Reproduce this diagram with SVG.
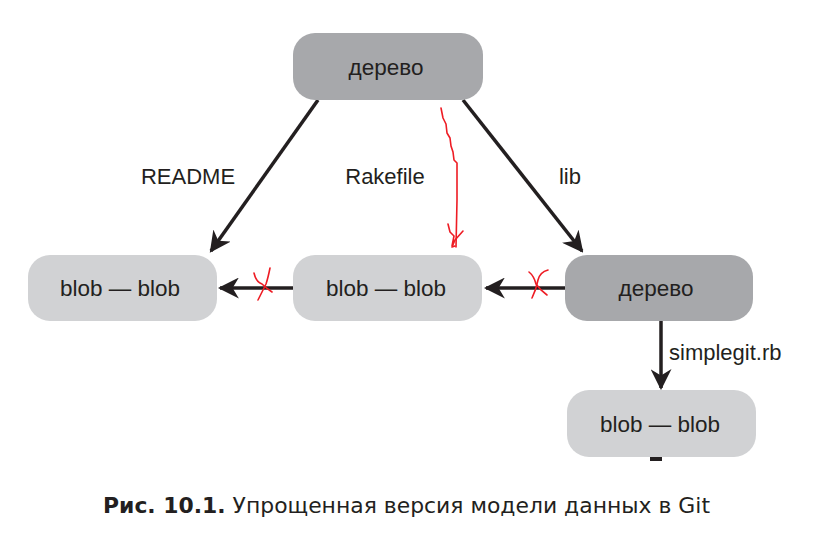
<svg xmlns="http://www.w3.org/2000/svg" width="824" height="548" viewBox="0 0 824 548">
<defs>
<style>
.dark{fill:#a7a8ab}
.light{fill:#d1d2d4}
.nt{font-family:"Liberation Sans",Arial,sans-serif;font-size:22.5px;fill:#231f20;text-anchor:middle}
.lbl{font-family:"Liberation Sans",Arial,sans-serif;font-size:22px;fill:#231f20}
.edge{stroke:#231f20;stroke-width:3.5;fill:none}
.red{stroke:#ee1c24;stroke-width:1.6;fill:none;stroke-linecap:round;stroke-linejoin:round}
.cap{font-family:"DejaVu Sans",Verdana,sans-serif;font-size:21px;fill:#231f20}
</style>
<marker id="ah" viewBox="0 0 10 10" refX="9" refY="5" markerWidth="6" markerHeight="6" orient="auto" markerUnits="strokeWidth">
<path d="M0,0 L10,5 L0,10 L3,5 Z" fill="#231f20"/>
</marker>
</defs>
<rect width="824" height="548" fill="#ffffff"/>
<g id="edges">
<line class="edge" x1="318" y1="100" x2="211" y2="251" marker-end="url(#ah)"/>
<line class="edge" x1="463" y1="100" x2="582" y2="251" marker-end="url(#ah)"/>
<line class="edge" x1="565" y1="288" x2="486" y2="288" marker-end="url(#ah)"/>
<line class="edge" x1="293" y1="288" x2="220" y2="288" marker-end="url(#ah)"/>
<line class="edge" x1="661" y1="321" x2="661" y2="388" marker-end="url(#ah)"/>
<text class="lbl" x="188" y="184" text-anchor="middle">README</text>
<text class="lbl" x="385" y="184" text-anchor="middle">Rakefile</text>
<text class="lbl" x="570" y="184" text-anchor="middle">lib</text>
<text class="lbl" x="669" y="360">simplegit.rb</text>
</g>
<g id="tree-top">
<rect class="dark" x="293" y="33" width="190" height="67" rx="22"/>
<text class="nt" x="386" y="75">дерево</text>
</g>
<g id="blob-left">
<rect class="light" x="28" y="255" width="189" height="66" rx="22"/>
<text class="nt" x="120" y="296">blob — blob</text>
</g>
<g id="blob-mid">
<rect class="light" x="293" y="255" width="189" height="66" rx="22"/>
<text class="nt" x="386" y="296">blob — blob</text>
</g>
<g id="tree-right">
<rect class="dark" x="565" y="255" width="188" height="66" rx="22"/>
<text class="nt" x="656" y="296">дерево</text>
</g>
<g id="blob-bottom">
<rect class="light" x="567" y="390" width="189" height="67" rx="22"/>
<text class="nt" x="660" y="432">blob — blob</text>
<rect x="650" y="457" width="12" height="4" fill="#231f20"/>
</g>
<g id="annotations">
<path class="red" d="M441,108 L443,118 L446,124 L447,133 L450,138 L451,146 L453,152 L454,160 L457,163 L457,200 L456,247"/>
<path class="red" d="M448,224 L450,232 L454,236 L452,246 M463,231 L455,240 L452,247 L455,246"/>
<path class="red" d="M254,273 Q256,282 262,284 Q266,288 272,292"/>
<path class="red" d="M270,268 Q268,278 266,284 Q262,292 258,300"/>
<path class="red" d="M529,272 Q534,276 536,284 Q540,290 547,295"/>
<path class="red" d="M548,270 Q540,272 538,280 Q536,290 532,298"/>
</g>
<g id="caption">
<text class="cap" x="103" y="513" textLength="607" lengthAdjust="spacingAndGlyphs"><tspan font-weight="bold">Рис. 10.1.</tspan> Упрощенная версия модели данных в Git</text>
</g>
</svg>
